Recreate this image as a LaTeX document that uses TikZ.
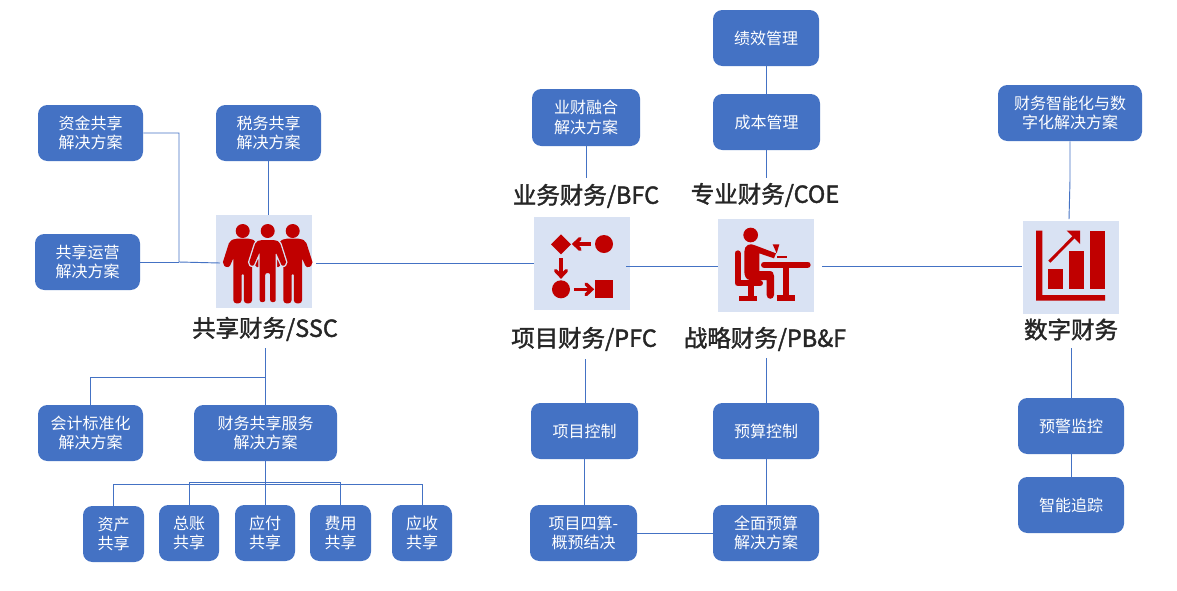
\documentclass[tikz,border=0pt]{standalone}
\usepackage{fontspec}
\setmainfont{Noto Sans CJK SC}
\newfontfamily\titlefont[FakeBold=1.6]{Noto Sans CJK SC}
\usetikzlibrary{arrows.meta}
\definecolor{boxblue}{HTML}{4472C4}
\definecolor{iconbg}{HTML}{D9E2F3}
\definecolor{iconred}{HTML}{C00000}
\definecolor{titlec}{HTML}{262626}
\tikzset{
  boxn/.style={draw=none,fill=boxblue,rounded corners=7pt,inner sep=0pt,align=center,text=white,font=\fontsize{12}{14.5}\selectfont},
  iconbox/.style={fill=iconbg,draw=none,inner sep=0pt,minimum width=72pt,minimum height=70pt},
  titlen/.style={inner sep=0pt,text=titlec,font=\titlefont\fontsize{17.6}{20}\selectfont},
  conn/.style={draw=boxblue,line width=0.7pt},
  ic/.style={fill=iconred,draw=none},
  icl/.style={draw=iconred,line cap=round},
  zoomc/.style={x=0.25pt,y=-0.25pt}
}
\newcommand\bx[6]{\pgfmathsetmacro\boxw{(#4-#2)*0.75}\pgfmathsetmacro\boxh{(#5-#3)*0.75}%
  \node[boxn,minimum width=\boxw pt,minimum height=\boxh pt] (#1) at ({(#2+#4)/2},{(#3+#5)/2}) {#6};}
\def\personpath{(-7.5,9) -- (7.5,9) -- (12,11) -- (19,33) -- (14.5,35.5) -- (8,21) -- (8,71) -- (2.5,71) -- (2.5,42)
      -- (-2.5,42) -- (-2.5,71) -- (-8,71) -- (-8,21) -- (-14.5,35.5) -- (-19,33) -- (-12,11) -- cycle}
\newcommand\person[2]{%
  \begin{scope}[shift={(#1,231)},x=0.75pt,y=-0.75pt]
    \fill[iconred] (0,0) circle[radius=5.25pt];
    \path[draw=#2,line width=2pt,rounded corners=1.5pt] \personpath;
    \path[fill=iconred,rounded corners=1.5pt] \personpath;
  \end{scope}}
\begin{document}
\begin{tikzpicture}[x=0.75pt,y=-0.75pt]
\useasboundingbox (0,0) rectangle (1177,590);
\fill[white] (0,0) rectangle (1177,590);
% icon backgrounds
\node[iconbox] (ssc) at (264,261.5) {};
\node[iconbox] (bfc) at (582,263.5) {};
\node[iconbox] (coe) at (766,265.5) {};
\node[iconbox] (dig) at (1071,267.5) {};
% boxes
\bx{zj}{38}{105}{143}{161}{资金共享\\解决方案}
\bx{sw}{216}{105}{321}{161}{税务共享\\解决方案}
\bx{yy}{35}{234}{140}{290}{共享运营\\解决方案}
\bx{yc}{532}{89}{640}{146}{业财融合\\解决方案}
\bx{jx}{713}{10}{819}{66}{绩效管理}
\bx{cb}{713}{94}{820}{150}{成本管理}
\bx{zn}{998}{85}{1142}{141}{财务智能化与数\\字化解决方案}
\bx{kj}{38}{405}{143}{461}{会计标准化\\解决方案}
\bx{fw}{194}{405}{337}{461}{财务共享服务\\解决方案}
\bx{zc}{83}{506}{144}{562}{资产\\共享}
\bx{zz}{159}{505}{219}{561}{总账\\共享}
\bx{yf}{235}{505}{295}{561}{应付\\共享}
\bx{fy}{310}{505}{371}{561}{费用\\共享}
\bx{ys}{392}{505}{452}{561}{应收\\共享}
\bx{xk}{531}{403}{638}{459}{项目控制}
\bx{yk}{713}{403}{819}{459}{预算控制}
\bx{xs}{530}{505}{637}{561}{项目四算-\\概预结决}
\bx{qm}{713}{505}{819}{561}{全面预算\\解决方案}
\bx{yj}{1018}{398}{1124}{454}{预警监控}
\bx{zg}{1018}{477}{1124}{533}{智能追踪}
% titles
\node[titlen] (t1) at (265,329) {共享财务/SSC};
\node[titlen] (t2) at (586,196) {业务财务/BFC};
\node[titlen] (t3) at (765,195) {专业财务/COE};
\node[titlen] (t4) at (584,339) {项目财务/PFC};
\node[titlen] (t5) at (765,339) {战略财务/PB\&F};
\node[titlen] (t6) at (1071,329.5) {数字财务};
% free ends
\coordinate (a1) at (220,263);
\coordinate (a2) at (316,263);
\coordinate (a3) at (534,263);
\coordinate (a4) at (626,266);
\coordinate (a5) at (718,266);
\coordinate (a6) at (822,266);
\coordinate (a7) at (1022,266);
\coordinate (j1) at (179,262);
\coordinate (b1) at (268,161);
\coordinate (b2) at (268,215);
\coordinate (c1) at (586,178);
\coordinate (c2) at (766,178);
\coordinate (c3) at (1070,180);
\coordinate (c4) at (1069,219);
\coordinate (d1) at (265,348);
\coordinate (d2) at (265,377);
\coordinate (d3) at (585,359);
\coordinate (d4) at (766,358);
\coordinate (d5) at (1071,348);
\coordinate (e1) at (265,482.5);
\coordinate (e2) at (265,484);
\coordinate (k1) at (90,405);
\coordinate (p1) at (584,459);
\coordinate (p2) at (584,505);
% connectors
\draw[conn] (zj.east) -| (j1) -- (a1);
\draw[conn] (yy.east) -- (j1);
\draw[conn] (b1) -- (b2);
\draw[conn] (a2) -- (a3);
\draw[conn] (a4) -- (a5);
\draw[conn] (a6) -- (a7);
\draw[conn] (yc.south -| c1) -- (c1);
\draw[conn] (jx.south -| c2) -- (cb.north -| c2);
\draw[conn] (cb.south -| c2) -- (c2);
\draw[conn] (zn.south) -- (c3) -- (c4);
\draw[conn] (d1) -- (fw.north -| d1);
\draw[conn] (d2) -| (k1);
\draw[conn] (fw.south -| e1) -- (e2);
\draw[conn] (zc.north) |- (e2);
\draw[conn] (e2) -| (ys.north);
\draw[conn] (zz.north) |- (e1);
\draw[conn] (fy.north) |- (e1);
\draw[conn] (e1 -| yf.north) -- (yf.north);
\draw[conn] (d3) -- (xk.north -| d3);
\draw[conn] (p1) -- (p2);
\draw[conn] (d4) -- (yk.north -| d4);
\draw[conn] (yk.south -| d4) -- (qm.north -| d4);
\draw[conn] (xs.east) -- (qm.west);
\draw[conn] (d5) -- (yj.north -| d5);
\draw[conn] (yj.south -| d5) -- (zg.north -| d5);
% people icon
\person{242.7}{iconred}
\person{292.7}{iconred}
\person{267.7}{iconbg}
% flow icon
\begin{scope}[shift={(510,200)},zoomc]
  \fill[ic] (153,103) -- (183,133) -- (153,163) -- (123,133) -- cycle;
  \fill[ic] (282,132) circle[radius=6.75pt];
  \fill[ic] (153,268) circle[radius=6.75pt];
  \fill[ic] (255,240) rectangle (310,295);
  \draw[icl,line width=2.6pt,line cap=butt] (243,132) -- (195,132);
  \draw[icl,line width=2.6pt] (210,116) -- (193,132) -- (210,148);
  \draw[icl,line width=2.6pt,line cap=butt] (153,175) -- (153,228);
  \draw[icl,line width=2.6pt] (137,212) -- (153,229) -- (169,212);
  \draw[icl,line width=2.6pt,line cap=butt] (192,268) -- (243,268);
  \draw[icl,line width=2.6pt] (228,252) -- (245,268) -- (228,284);
\end{scope}
% desk icon
\begin{scope}[shift={(510,200)},zoomc]
  \fill[ic] (722,105) circle[radius=5.5pt];
  \draw[icl,line width=4.5pt,line join=round] (683,160) -- (683,250) -- (750,250);
  \fill[ic] (713,255) rectangle (732,290);
  \draw[icl,line width=4pt,line cap=butt] (688,295) -- (742,295);
  \fill[ic] (703,155) .. controls (703,135) and (720,128) .. (735,136) -- (798,160) -- (792,175) -- (748,160) -- (748,213) -- (778,213) .. controls (788,213) and (792,220) .. (792,228) -- (792,285) .. controls (792,300) and (770,300) .. (770,285) -- (770,240) -- (720,240) .. controls (707,240) and (703,225) .. (703,215) -- cycle;
  \draw[icl,line width=4.5pt] (762,194) -- (893,194);
  \fill[ic] (820,200) rectangle (838,290);
  \draw[icl,line width=4pt,line cap=butt] (800,294) -- (855,294);
  \fill[ic] (788,133) -- (808,133) -- (800,160) -- cycle;
  \fill[ic] (800,169) rectangle (830,175);
\end{scope}
% chart icon
\begin{scope}[shift={(1000,200)},zoomc]
  \fill[ic] (108,92) -- (127,92) -- (127,285) -- (315,285) -- (315,302) -- (108,302) -- cycle;
  \fill[ic] (144,207) rectangle (189,266);
  \fill[ic] (207,153) rectangle (252,266);
  \fill[ic] (270,92) rectangle (315,266);
  \draw[icl,line width=2.2pt,line cap=butt] (148,185) -- (228,104);
  \fill[ic] (200,92) -- (240,92) -- (240,132) -- cycle;
\end{scope}
\end{tikzpicture}
\end{document}
